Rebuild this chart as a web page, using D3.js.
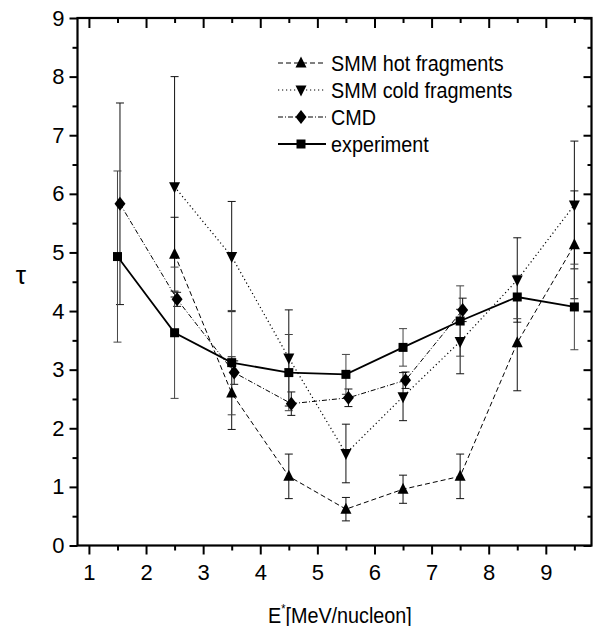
<!DOCTYPE html>
<html>
<head>
<meta charset="utf-8">
<script src="https://cdn.jsdelivr.net/npm/d3@7"></script>
<style>
  body { margin: 0; background: #fff; }
  text { font-family: "Liberation Sans", Arial, sans-serif; }
</style>
</head>
<body>
<script>
// data
const energies = [1.5, 2.5, 3.5, 4.5, 5.5, 6.5, 7.5, 8.5, 9.5]

const expTau = [4.93, 3.63, 3.12, 2.95, 2.92, 3.38, 3.83, 4.24, 4.07]
const expErr = [1.46, 1.12, 0.89, 0.65, 0.34, 0.32, 0.60, 0.37, 0.73]

const cmdTau = [5.83, 4.20, 2.95, 2.42, 2.52, 2.82, 4.02]
const cmdErr = [1.72, 0.12, 0.20, 0.20, 0.15, 0.14, 0.20]

const hotE = [2.5, 3.5, 4.5, 5.5, 6.5, 7.5, 8.5, 9.5]
const hotTau = [4.97, 2.60, 1.18, 0.62, 0.96, 1.18, 3.46, 5.13]
const hotErr = [0.63, 0.62, 0.38, 0.20, 0.24, 0.38, 0.82, 0.92]

const coldTau = [6.12, 4.93, 3.20, 1.57, 2.54, 3.48, 4.53, 5.81]
const coldErr = [1.88, 0.94, 0.82, 0.50, 0.41, 0.55, 0.72, 1.09]

const xTicks = [1, 2, 3, 4, 5, 6, 7, 8, 9]
const yTicks = [0, 1, 2, 3, 4, 5, 6, 7, 8, 9]

const W = 599, H = 626
const margin = { top: 18, right: 7.5, bottom: 80.5, left: 77.5 }

const svg = d3.select("body").append("svg")
    .attr("width", W)
    .attr("height", H)
    .attr("xmlns", "http://www.w3.org/2000/svg")

const x = d3.scaleLinear().domain([0.8, 9.8]).range([margin.left, W - margin.right])
const y = d3.scaleLinear().domain([0, 9]).range([H - margin.bottom, margin.top])

// marker shapes
const shapes = {
  up: "M0,-6.5L5.5,4.5L-5.5,4.5Z",
  down: "M0,6.5L5.5,-4.5L-5.5,-4.5Z",
  square: "M-4.5,-4.5H4.5V4.5H-4.5Z",
  diamond: "M0,-7L5.5,0L0,7L-5.5,0Z"
}

const series = [
  { name: "SMM hot fragments", xs: hotE, ys: hotTau, err: hotErr, shape: "up", dash: "5,3", width: 1, dx: 0 },
  { name: "SMM cold fragments", xs: hotE, ys: coldTau, err: coldErr, shape: "down", dash: "1.2,2.8", width: 1.2, dx: 0 },
  { name: "CMD", xs: energies.slice(0, cmdTau.length), ys: cmdTau, err: cmdErr, shape: "diamond", dash: "5,2,1,2", width: 1, dx: 2.5 },
  { name: "experiment", xs: energies, ys: expTau, err: expErr, shape: "square", dash: null, width: 1.8, dx: 0 }
]

// axes
const minorX = d3.range(1.5, 9.8, 1)
const minorY = d3.range(0.5, 9, 1)

const axisG = svg.append("g")

const axBottom = axisG.append("g").attr("transform", `translate(0,${y(0)})`)
axBottom.call(d3.axisBottom(x).tickValues(xTicks).tickSize(9).tickFormat(d3.format("d")))
axBottom.append("g").call(d3.axisBottom(x).tickValues(minorX).tickSize(5).tickFormat(""))

const axTop = axisG.append("g").attr("transform", `translate(0,${y(9)})`)
axTop.call(d3.axisBottom(x).tickValues(xTicks).tickSize(10).tickFormat(""))
axTop.append("g").call(d3.axisBottom(x).tickValues(minorX).tickSize(5).tickFormat(""))

const axLeft = axisG.append("g").attr("transform", `translate(${x(0.8)},0)`)
axLeft.call(d3.axisLeft(y).tickValues(yTicks).tickSize(8).tickFormat(d3.format("d")))
axLeft.append("g").call(d3.axisLeft(y).tickValues(minorY).tickSize(5).tickFormat(""))

const axRight = axisG.append("g").attr("transform", `translate(${x(9.8)},0)`)
axRight.call(d3.axisLeft(y).tickValues(yTicks).tickSize(8).tickFormat(""))
axRight.append("g").call(d3.axisLeft(y).tickValues(minorY).tickSize(4).tickFormat(""))

axisG.selectAll(".domain").remove()
axisG.selectAll("line").attr("stroke", "#000").attr("stroke-width", 2)
axisG.selectAll("text")
    .attr("fill", "#000")
    .attr("font-size", 22)
    .attr("font-family", "Liberation Sans, Arial, sans-serif")
axBottom.selectAll(".tick text").attr("dy", "0.9em").attr("y", 15)
axLeft.selectAll(".tick text").attr("x", -13)

// frame
axisG.append("rect")
    .attr("x", x(0.8))
    .attr("y", y(9))
    .attr("width", x(9.8) - x(0.8))
    .attr("height", y(0) - y(9))
    .attr("fill", "none")
    .attr("stroke", "#000")
    .attr("stroke-width", 2.2)

// connecting lines
series.forEach(s => {
  const pts = s.xs.map((e, i) => [x(e) + s.dx, y(s.ys[i])])
  svg.append("path")
      .attr("d", d3.line()(pts))
      .attr("fill", "none")
      .attr("stroke", "#000")
      .attr("stroke-width", s.width)
      .attr("stroke-dasharray", s.dash)
})

// error bars
series.forEach(s => {
  const g = svg.append("g").attr("stroke", s.shape === "square" ? "#444" : "#111").attr("stroke-width", 1)
  s.xs.forEach((e, i) => {
    const cx = x(e) + s.dx
    const y1 = y(s.ys[i] - s.err[i]), y2 = y(s.ys[i] + s.err[i])
    g.append("line").attr("x1", cx).attr("x2", cx).attr("y1", y1).attr("y2", y2)
    g.append("line").attr("x1", cx - 4).attr("x2", cx + 4).attr("y1", y1).attr("y2", y1)
    g.append("line").attr("x1", cx - 4).attr("x2", cx + 4).attr("y1", y2).attr("y2", y2)
  })
})

// markers
series.forEach(s => {
  s.xs.forEach((e, i) => {
    svg.append("path")
        .attr("d", shapes[s.shape])
        .attr("transform", `translate(${x(e) + s.dx},${y(s.ys[i])})`)
        .attr("fill", "#000")
  })
})

// legend
const legend = svg.append("g")
series.forEach((s, i) => {
  const ly = 63 + i * 27
  legend.append("line")
      .attr("x1", 278).attr("x2", 326)
      .attr("y1", ly).attr("y2", ly)
      .attr("stroke", "#000")
      .attr("stroke-width", s.width)
      .attr("stroke-dasharray", s.dash)
  legend.append("path")
      .attr("d", shapes[s.shape])
      .attr("transform", `translate(301,${ly})`)
      .attr("fill", "#000")
  legend.append("text")
      .attr("transform", `translate(331,${ly + 8}) scale(0.9,1)`)
      .attr("font-size", 22)
      .text(s.name)
})

// axis titles
const xt = svg.append("text")
    .attr("transform", "translate(268,623) scale(0.9,1)")
    .attr("font-size", 22)
xt.append("tspan").text("E")
xt.append("tspan").attr("font-size", 12).attr("dy", -10).text("*")
xt.append("tspan").attr("dy", 10).text("[MeV/nucleon]")

svg.append("text")
    .attr("x", 21)
    .attr("y", 284)
    .attr("text-anchor", "middle")
    .attr("font-size", 26)
    .attr("font-family", "DejaVu Serif, serif")
    .text("τ")
</script>
</body>
</html>
